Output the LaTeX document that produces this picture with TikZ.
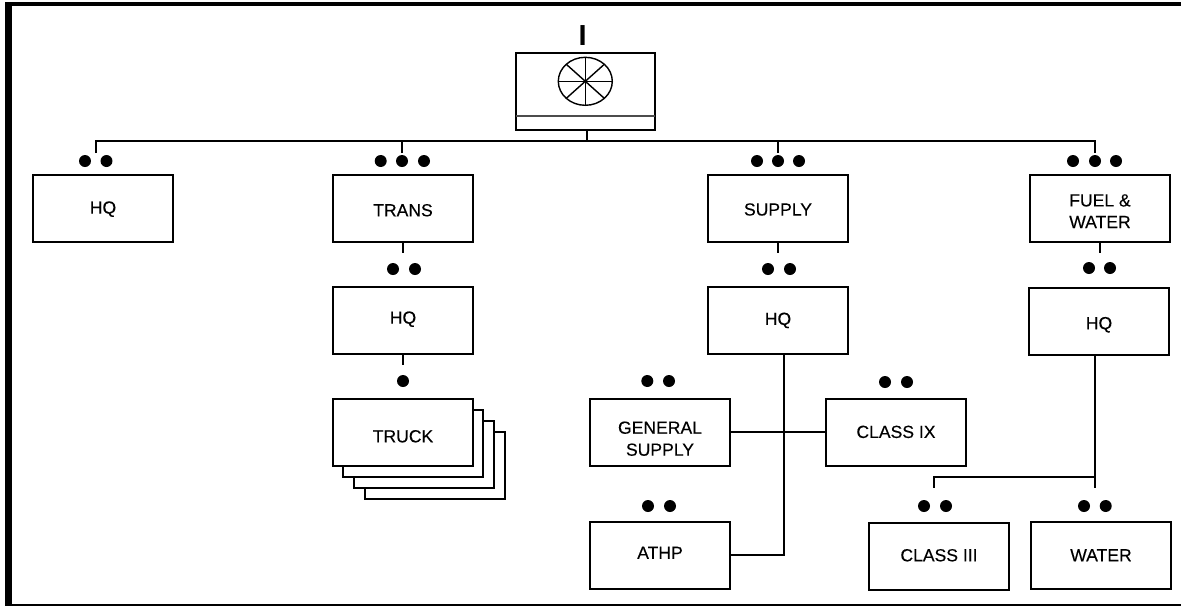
\documentclass[tikz,border=0pt]{standalone}
\usepackage{fontspec}
\setmainfont{Liberation Sans}
\newfontfamily\boxfont[FakeBold=0.25]{Liberation Sans}
\usetikzlibrary{calc,positioning}
\newcommand{\boxtext}[2]{\smash{\raisebox{#1}{#2}}}
\newcommand{\twolines}[2]{\begin{tabular}{@{}c@{}}#1\\#2\end{tabular}}

\begin{document}
\begin{tikzpicture}[x=0.02cm, y=-0.02cm, line width=1.134pt]
	% --- Styles ---
	\tikzset{unitbox/.style={draw, fill=white, rectangle, minimum width=2.8cm, minimum height=1.34cm, inner sep=0pt, outer sep=0pt, font=\boxfont\fontsize{10}{12.3}\selectfont}}
	\tikzset{rankdot/.style={fill=black, circle, minimum size=0.24cm, inner sep=0pt, outer sep=0pt}}
	\useasboundingbox (0,0) rectangle (1181,606);

	% --- Outer frame ---
	\fill (5,2) rectangle (12,606);
	\fill (5,2) rectangle (1181,5.7);
	\fill (5,604) rectangle (1181,606);

	% --- Top unit ---
	\node[font=\bfseries\fontsize{16.5}{18}\selectfont, inner sep=0pt] (rank) at (582.7,35.5) {I};
	\node[unitbox, minimum width=2.78cm, minimum height=1.54cm] (CMD) at (585.5,91.5) {};
	\coordinate (U) at (585.3,81.3);
	\draw[line width=0.8pt] (U) ellipse [x radius=27, y radius=24];
	\draw[line width=0.8pt] ($(U)+(-27,0)$) -- ($(U)+(27,0)$);
	\draw[line width=0.8pt] ($(U)+(0,-24)$) -- ($(U)+(0,24)$);
	\draw[line width=0.8pt] ($(U)+(-19,-17)$) -- ($(U)+(19,17)$);
	\draw[line width=0.8pt] ($(U)+(-19,17)$) -- ($(U)+(19,-17)$);
	\draw[line width=0.8pt, black!70] ($(CMD.south west)+(0,-14)$) -- ($(CMD.south east)+(0,-14)$);

	% --- Boxes ---
	\node[unitbox] (HQa) at (103,208.5) {\boxtext{-2.9pt}{HQ}};
	\node[unitbox] (TRANS) at (403,208.5) {\boxtext{-4.45pt}{TRANS}};
	\node[unitbox] (SUPPLY) at (778,208.5) {\boxtext{-4pt}{SUPPLY}};
	\node[unitbox] (FUEL) at (1100,208.5) {\boxtext{-5pt}{\twolines{FUEL \&}{WATER}}};
	\node[unitbox] (HQb) at (403,320.5) {\boxtext{-1.8pt}{HQ}};
	\node[unitbox] (HQc) at (778,320.5) {\boxtext{-2.5pt}{HQ}};
	\node[unitbox] (HQd) at (1099,321.5) {\boxtext{-4.4pt}{HQ}};

	% --- Truck stack ---
	\node[unitbox] (TRUCKd) at (435,465.5) {};
	\node[unitbox] (TRUCKc) at (424,454.5) {};
	\node[unitbox] (TRUCKb) at (413,443.5) {};
	\node[unitbox] (TRUCK) at (403,432.5) {\boxtext{-5.6pt}{TRUCK}};

	% --- Supply and fuel sections ---
	\node[unitbox] (GEN) at (660,432.5) {\boxtext{-7pt}{\twolines{GENERAL\rule[-3.9pt]{0pt}{0pt}}{SUPPLY}}};
	\node[unitbox] (IX) at (896,432.5) {\boxtext{-3.1pt}{CLASS IX}};
	\node[unitbox] (ATHP) at (660,555.5) {\boxtext{-1.9pt}{ATHP}};
	\node[unitbox] (III) at (939,556.5) {\boxtext{-2.75pt}{CLASS III}};
	\node[unitbox] (WATER) at (1101,555.5) {\boxtext{-3.3pt}{WATER}};

	% --- Rank dots ---
	\node[rankdot] (a1) at (85,161) {}; \node[rankdot] (a2) at (106.5,161) {};
	\node[rankdot] (b1) at (380.7,161) {}; \node[rankdot] (b2) at (402,161) {}; \node[rankdot] (b3) at (424,161) {};
	\node[rankdot] (c1) at (757,161) {}; \node[rankdot] (c2) at (778,161) {}; \node[rankdot] (c3) at (799,161) {};
	\node[rankdot] (d1) at (1073,161) {}; \node[rankdot] (d2) at (1095,161) {}; \node[rankdot] (d3) at (1116,161) {};
	\node[rankdot] (e1) at (393,269) {}; \node[rankdot] (e2) at (415,269) {};
	\node[rankdot] (f1) at (768,269) {}; \node[rankdot] (f2) at (790,269) {};
	\node[rankdot] (g1) at (1089,268) {}; \node[rankdot] (g2) at (1110,268) {};
	\node[rankdot] (h1) at (403,381) {};
	\node[rankdot] (i1) at (647.3,381) {}; \node[rankdot] (i2) at (669,381) {};
	\node[rankdot] (j1) at (885,382) {}; \node[rankdot] (j2) at (907,382) {};
	\node[rankdot] (k1) at (648,506) {}; \node[rankdot] (k2) at (670,506) {};
	\node[rankdot] (l1) at (924,506) {}; \node[rankdot] (l2) at (946,506) {};
	\node[rankdot] (m1) at (1084,506) {}; \node[rankdot] (m2) at (1105.7,506) {};

	% --- Top bus ---
	\coordinate (dropHQ) at (96,153);
	\coordinate (dropTRANS) at (402,153);
	\coordinate (dropSUPPLY) at (778,153);
	\coordinate (dropFUEL) at (1095,153);
	\coordinate (bus) at (587,141);
	\draw (CMD.south -| bus) -- (bus);
	\draw (dropHQ) |- (bus) -| (dropFUEL);
	\draw (dropTRANS) -- (dropTRANS |- bus);
	\draw (dropSUPPLY) -- (dropSUPPLY |- bus);

	% --- Stubs below boxes ---
	\coordinate (stubTRANS) at (403,253);
	\coordinate (stubHQb) at (403,365);
	\coordinate (stubSUPPLY) at (778,253);
	\coordinate (stubFUEL) at (1100,253);
	\draw (TRANS.south) -- (stubTRANS);
	\draw (HQb.south) -- (stubHQb);
	\draw (SUPPLY.south) -- (stubSUPPLY);
	\draw (FUEL.south) -- (stubFUEL);

	% --- Supply connectors ---
	\coordinate (trunkS) at (784,555);
	\coordinate (crossS) at (784,432);
	\draw (HQc.south -| trunkS) -- (trunkS) -- (trunkS -| ATHP.east);
	\draw (GEN.east |- crossS) -- (IX.west |- crossS);

	% --- Fuel connectors ---
	\coordinate (trunkF) at (1095,488);
	\coordinate (stubIII) at (934,488);
	\coordinate (branchF) at (1095,477);
	\draw (HQd.south -| trunkF) -- (trunkF);
	\draw (branchF) -| (stubIII);
\end{tikzpicture}
\end{document}
